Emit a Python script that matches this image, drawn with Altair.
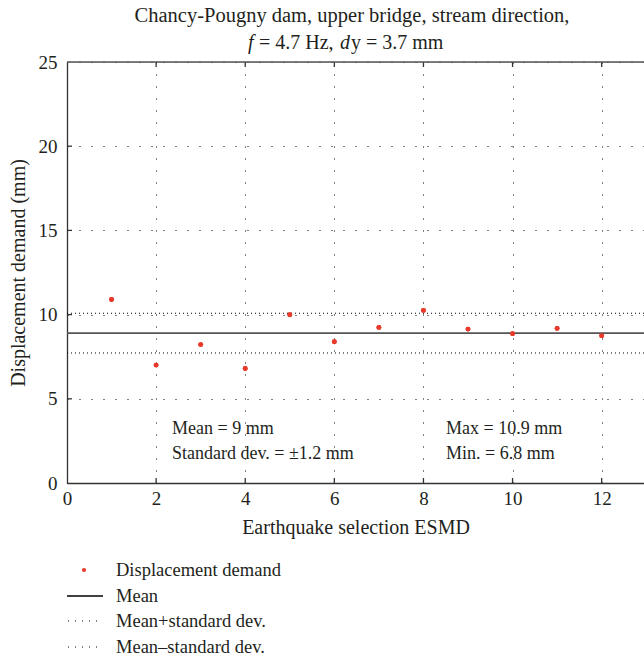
import altair as alt
import pandas as pd

# ---- data ----
selection = [1, 2, 3, 4, 5, 6, 7, 8, 9, 10, 11, 12]
displacement = [10.9, 7.0, 8.22, 6.8, 9.99, 8.39, 9.24, 10.25, 9.14, 8.87, 9.18, 8.75]
mean_value = 8.9
mean_plus_sd = 10.08
mean_minus_sd = 7.72
x_ticks = [0, 2, 4, 6, 8, 10, 12]
y_ticks = [0, 5, 10, 15, 20, 25]
annot_left = ["Mean = 9 mm", "Standard dev. = \u00b11.2 mm"]
annot_right = ["Max = 10.9 mm", "Min. = 6.8 mm"]
legend_labels = ["Displacement demand", "Mean", "Mean+standard dev.", "Mean\u2013standard dev."]

FONT = "Liberation Serif"
TXT = "#231f20"
RED = "#e8392b"
W, H = 577, 421

df = pd.DataFrame({"sel": selection, "disp": displacement})
one = pd.DataFrame({"k": [0]})

xs = alt.Scale(domain=[0, 12.95], nice=False, zero=False)
ys = alt.Scale(domain=[0, 25], nice=False)

x_axis = alt.Axis(values=x_ticks, grid=True, gridDash=[1, 11], gridColor="#000", gridWidth=1,
                  ticks=False, domain=True, domainColor="#333", domainWidth=1.3,
                  labelFont=FONT, labelFontSize=19, labelColor=TXT, labelPadding=6,
                  labelFlush=False,
                  title="Earthquake selection ESMD", titleFont=FONT, titleFontSize=20,
                  titleFontWeight="normal", titleColor=TXT, titlePadding=9, format="d")
y_axis = alt.Axis(values=y_ticks, grid=True, gridDash=[1, 11], gridColor="#000", gridWidth=1,
                  ticks=False, domain=True, domainColor="#333", domainWidth=1.3,
                  labelFont=FONT, labelFontSize=19, labelColor=TXT, labelPadding=10,
                  labelFlush=False,
                  title="Displacement demand (mm)", titleFont=FONT, titleFontSize=20,
                  titleFontWeight="normal", titleColor=TXT, titlePadding=10)

points = alt.Chart(df).mark_circle(size=24, color=RED, opacity=1).encode(
    x=alt.X("sel:Q", scale=xs, axis=x_axis),
    y=alt.Y("disp:Q", scale=ys, axis=y_axis),
)

# inward ticks
xt = pd.DataFrame({"t": x_ticks[1:]})
yt = pd.DataFrame({"t": y_ticks[1:-1]})
tick_bottom = alt.Chart(xt).mark_rule(color="#333", strokeWidth=1.3).encode(
    x=alt.X("t:Q", scale=xs), y=alt.value(H), y2=alt.value(H - 5))
tick_top = alt.Chart(xt).mark_rule(color="#333", strokeWidth=1.3).encode(
    x=alt.X("t:Q", scale=xs), y=alt.value(0), y2=alt.value(5))
tick_left = alt.Chart(yt).mark_rule(color="#333", strokeWidth=1.3).encode(
    y=alt.Y("t:Q", scale=ys), x=alt.value(0), x2=alt.value(5))
top_frame = alt.Chart(one).mark_rule(color="#555", strokeWidth=1.3).encode(
    x=alt.value(0), x2=alt.value(W), y=alt.value(0))

lines_df = pd.DataFrame({"v": [mean_value]})
mean_rule = alt.Chart(lines_df).mark_rule(color="#555", strokeWidth=1.6).encode(
    y=alt.Y("v:Q", scale=ys))
sd_df = pd.DataFrame({"v": [mean_plus_sd, mean_minus_sd]})
sd_rule = alt.Chart(sd_df).mark_rule(color="#000", strokeWidth=1, strokeDash=[1, 3]).encode(
    y=alt.Y("v:Q", scale=ys))

def txt(s, x, y, size=18, align="left", italic=False, baseline="alphabetic"):
    kw = dict(font=FONT, fontSize=size, color=TXT, align=align, baseline=baseline)
    if italic:
        kw["fontStyle"] = "italic"
    return alt.Chart(one).mark_text(text=s, **kw).encode(x=alt.value(x - 67), y=alt.value(y - 62))

annots = [
    txt(annot_left[0], 172, 434),
    txt(annot_left[1], 172, 459),
    txt(annot_right[0], 446, 434),
    txt(annot_right[1], 446, 459),
]

# title
TS = 20
title_layers = [
    txt("Chancy-Pougny dam, upper bridge, stream direction,", 352, 22, size=20.5, align="center"),
    txt("f", 248, 49, size=TS, italic=True),
    txt("= 4.7 Hz,", 259, 49, size=TS),
    txt("d", 340, 49, size=TS, italic=True),
    txt("y = 3.7 mm", 351, 49, size=TS),
]

# legend
leg_y = [570, 596, 621, 647]
leg = [
    alt.Chart(one).mark_circle(size=18, color=RED, opacity=1).encode(x=alt.value(84 - 67), y=alt.value(leg_y[0] - 62)),
    alt.Chart(one).mark_rule(color="#000", strokeWidth=1.3).encode(x=alt.value(0), x2=alt.value(36), y=alt.value(leg_y[1] - 62)),
    alt.Chart(one).mark_rule(color="#000", strokeWidth=1, strokeDash=[1, 6]).encode(x=alt.value(1), x2=alt.value(36), y=alt.value(leg_y[2] - 62)),
    alt.Chart(one).mark_rule(color="#000", strokeWidth=1, strokeDash=[1, 6]).encode(x=alt.value(1), x2=alt.value(36), y=alt.value(leg_y[3] - 62)),
]
for lab, yy in zip(legend_labels, leg_y):
    leg.append(txt(lab, 116, yy, size=18.5, baseline="middle"))

chart = alt.layer(
    points, sd_rule, mean_rule, tick_bottom, tick_top, tick_left, top_frame,
    *annots, *title_layers, *leg, points
).properties(
    width=W, height=H,
    autosize=alt.AutoSizeParams(type="none"),
    padding={"left": 67, "top": 62, "right": 0, "bottom": 656 - 62 - H},
).configure_view(stroke=None).configure(background="white")

chart.save("out.html", embed_options={"renderer": "svg", "actions": False})
